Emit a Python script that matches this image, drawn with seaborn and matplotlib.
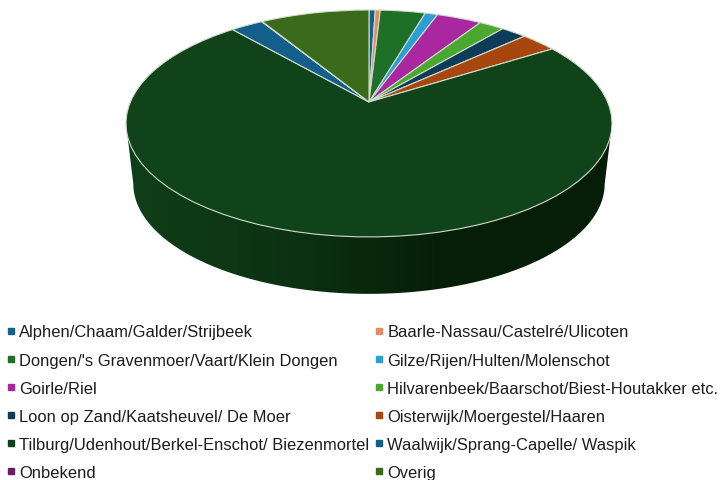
import numpy as np
import matplotlib
matplotlib.use("Agg")
import matplotlib.pyplot as plt
import seaborn as sns
from matplotlib.lines import Line2D
from matplotlib.patches import Polygon
from matplotlib.transforms import Transform

# Values (share of the pie, percent)
regions = [
    "Alphen/Chaam/Galder/Strijbeek",
    "Baarle-Nassau/Castelré/Ulicoten",
    "Dongen/'s Gravenmoer/Vaart/Klein Dongen",
    "Gilze/Rijen/Hulten/Molenschot",
    "Goirle/Riel",
    "Hilvarenbeek/Baarschot/Biest-Houtakker etc.",
    "Loon op Zand/Kaatsheuvel/ De Moer",
    "Oisterwijk/Moergestel/Haaren",
    "Tilburg/Udenhout/Berkel-Enschot/ Biezenmortel",
    "Waalwijk/Sprang-Capelle/ Waspik",
    "Onbekend",
    "Overig",
]
shares = [0.5, 0.4, 3.6, 1.0, 3.6, 2.0, 2.05, 2.9, 72.7, 2.6, 0.05, 8.7]
colors = ["#17608a", "#e88a6a", "#1e7028", "#2a9fd6", "#a9289f", "#4aa830",
          "#0e3b57", "#a8460f", "#10431a", "#145e8c", "#6b1d63", "#3a6a1a"]

# Tilted pie: apex and perspective, in picture pixels
APEX = (369, 103)
WIDTH, HEIGHT, TILT = 238.6, 109.4, 0.189
WALL_DROP, WALL_SCALE = 61, 0.97

sns.set_theme(style="white")
plt.rcParams["font.family"] = ["Liberation Sans", "DejaVu Sans"]


class Perspective(Transform):
    """Lays the unit-circle pie down on the table, in pixel coordinates."""
    input_dims = output_dims = 2

    def __init__(self, drop=0, scale=1.0):
        super().__init__()
        self.drop, self.scale = drop, scale

    def transform_non_affine(self, xy):
        xy = np.asarray(xy, dtype=float)
        w = 1 + TILT * xy[:, 1]
        px = APEX[0] + self.scale * WIDTH * xy[:, 0] / w
        py = APEX[1] + self.drop - self.scale * HEIGHT * xy[:, 1] / w
        return np.column_stack([px, py])


def wall_outline():
    """Silhouette of the pie's side: sides of the top rim, lower half of the bottom rim."""
    t = np.linspace(0, 2 * np.pi, 721)
    circle = np.column_stack([np.cos(t), np.sin(t)])
    top = Perspective().transform_non_affine(circle)
    low = Perspective(WALL_DROP, WALL_SCALE).transform_non_affine(circle)
    left, right = np.argmin(low[:, 0]), np.argmax(low[:, 0])
    arc = low[left:right + 1] if left < right else np.vstack([low[left:], low[:right + 1]])
    return np.vstack([top[np.argmin(top[:, 0])], arc, top[np.argmax(top[:, 0])]])


fig = plt.figure(figsize=(7.2, 4.81), dpi=100)
ax = fig.add_axes([0, 0, 1, 1])

wedges, _ = ax.pie(shares, colors=colors, startangle=90, counterclock=False,
                   wedgeprops={"edgecolor": "#cfdccb", "linewidth": 0.8})
for wedge in wedges:
    wedge.set_transform(Perspective() + ax.transData)
    wedge.set_zorder(3)

# side wall, dark gradient running left to right
outline = wall_outline()
ramp = sns.blend_palette(["#0f3f18", "#0c3213", "#061d08", "#061f09"], as_cmap=True)
im = ax.imshow(np.linspace(0, 1, 256)[None, :], cmap=ramp, aspect="auto", zorder=2,
               extent=(outline[:, 0].min(), outline[:, 0].max(), outline[:, 1].max(), outline[:, 1].min()))
clip = Polygon(outline, closed=True, transform=ax.transData, facecolor="none", edgecolor="none")
ax.add_patch(clip)
im.set_clip_path(clip)

ax.set_aspect("auto")
ax.set_xlim(0, 720)
ax.set_ylim(481, 0)
ax.axis("off")

# matplotlib fills legend columns first, the picture reads row by row
handles = [Line2D([], [], linestyle="none", marker="s", markersize=3.7, color=c, label=r)
           for r, c in zip(regions, colors)]
order = list(range(0, 12, 2)) + list(range(1, 12, 2))
fig.legend(handles=[handles[i] for i in order], ncol=2, loc="upper left",
           bbox_to_anchor=(0.0097, 0.3233), frameon=False, fontsize=11.9, labelcolor="#1c1c1c",
           borderaxespad=0, borderpad=0, handlelength=0.5, handletextpad=0.22,
           columnspacing=0.38, labelspacing=0.79)

fig.savefig("out.png", dpi=100)
